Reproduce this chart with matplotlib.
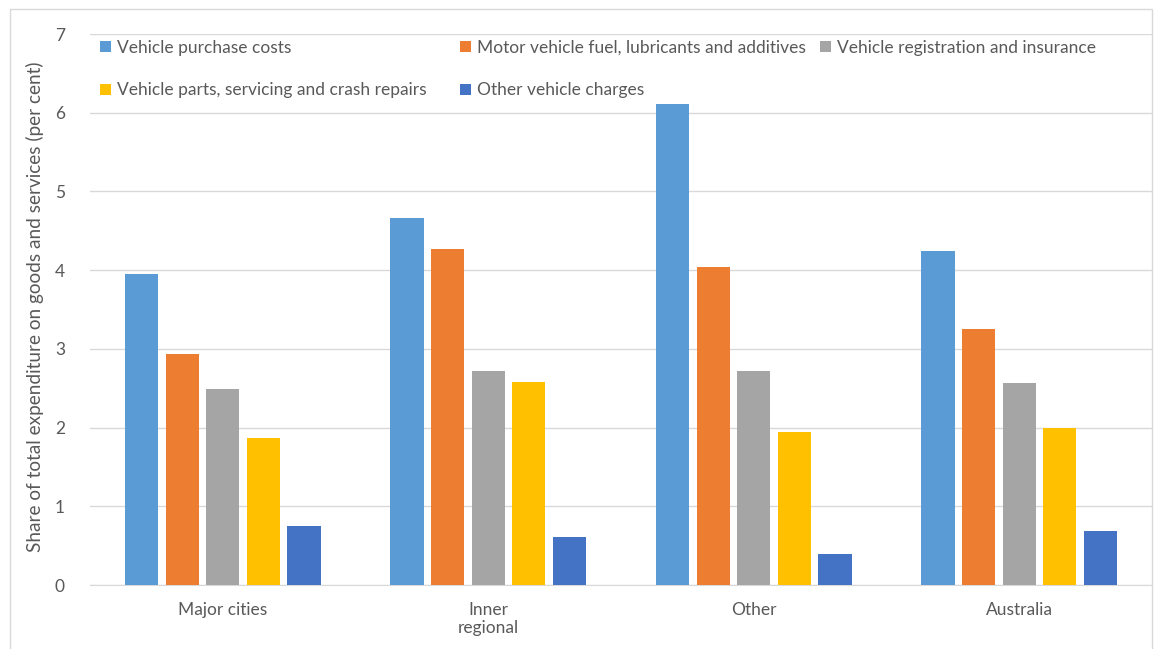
import numpy as np
import matplotlib.pyplot as plt
from matplotlib.legend import Legend
from matplotlib.patches import Rectangle

plt.rcParams['font.family'] = ['Lato', 'DejaVu Sans']

categories = ['Major cities', 'Inner\nregional', 'Other', 'Australia']
series_names = ['Vehicle purchase costs',
                'Motor vehicle fuel, lubricants and additives',
                'Vehicle registration and insurance',
                'Vehicle parts, servicing and crash repairs',
                'Other vehicle charges']
purchase = [3.95, 4.66, 6.11, 4.24]
fuel = [2.94, 4.27, 4.04, 3.25]
registration = [2.49, 2.72, 2.72, 2.57]
parts = [1.87, 2.58, 1.94, 1.99]
other = [0.75, 0.61, 0.39, 0.69]
colors = ['#5B9BD5', '#ED7D31', '#A5A5A5', '#FFC000', '#4472C4']

text_col = '#595959'
fig = plt.figure(figsize=(11.64, 6.49), dpi=100)
ax = fig.add_axes([0.0773, 0.0986, 0.9124, 0.849])

x = np.arange(len(categories))
width = 0.125
pitch = 0.153
handles = []
for i, vals in enumerate([purchase, fuel, registration, parts, other]):
    b = ax.bar(x + (i - 2) * pitch, vals, width, color=colors[i], label=series_names[i], zorder=3)
    handles.append(b)

ax.set_xlim(-0.5, len(categories) - 0.5)
ax.set_ylim(0, 7)
ax.set_yticks(range(0, 8))
ax.yaxis.grid(True, color='#D9D9D9', linewidth=1, zorder=0)
for s in ['top', 'right', 'left']:
    ax.spines[s].set_visible(False)
ax.spines['bottom'].set_color('#D9D9D9')
ax.tick_params(axis='both', length=0, labelsize=12.5, labelcolor=text_col)
ax.tick_params(axis='y', pad=18)
ax.tick_params(axis='x', pad=12)
ax.set_xticks(x)
ax.set_xticklabels(categories)

# y axis title placed by hand so it sits where the original has it
fig.text(35 / 1164, 1 - 307 / 649,
         'Share of total expenditure on goods and services (per cent)',
         rotation=90, ha='center', va='center', fontsize=13.7, color=text_col)

# legend laid out in three columns, row-major like the original
legend_cols = [[0, 3], [1, 4], [2]]
col_x = [0.0094, 0.348, 0.687]
for cols, cx in zip(legend_cols, col_x):
    leg = Legend(ax, [handles[k] for k in cols], [series_names[k] for k in cols],
                 loc='upper left', bbox_to_anchor=(cx, 0.99), frameon=False,
                 fontsize=12.5, labelcolor=text_col, handlelength=0.65, handleheight=0.65,
                 handletextpad=0.35, labelspacing=1.55, borderpad=0, borderaxespad=0)
    ax.add_artist(leg)

fig.patches.append(Rectangle((10 / 1164, -0.05), 1142 / 1164, 1 - 9 / 649 + 0.05,
                             transform=fig.transFigure, fill=False,
                             edgecolor='#D9D9D9', linewidth=1))

fig.savefig('out.png', dpi=100)
